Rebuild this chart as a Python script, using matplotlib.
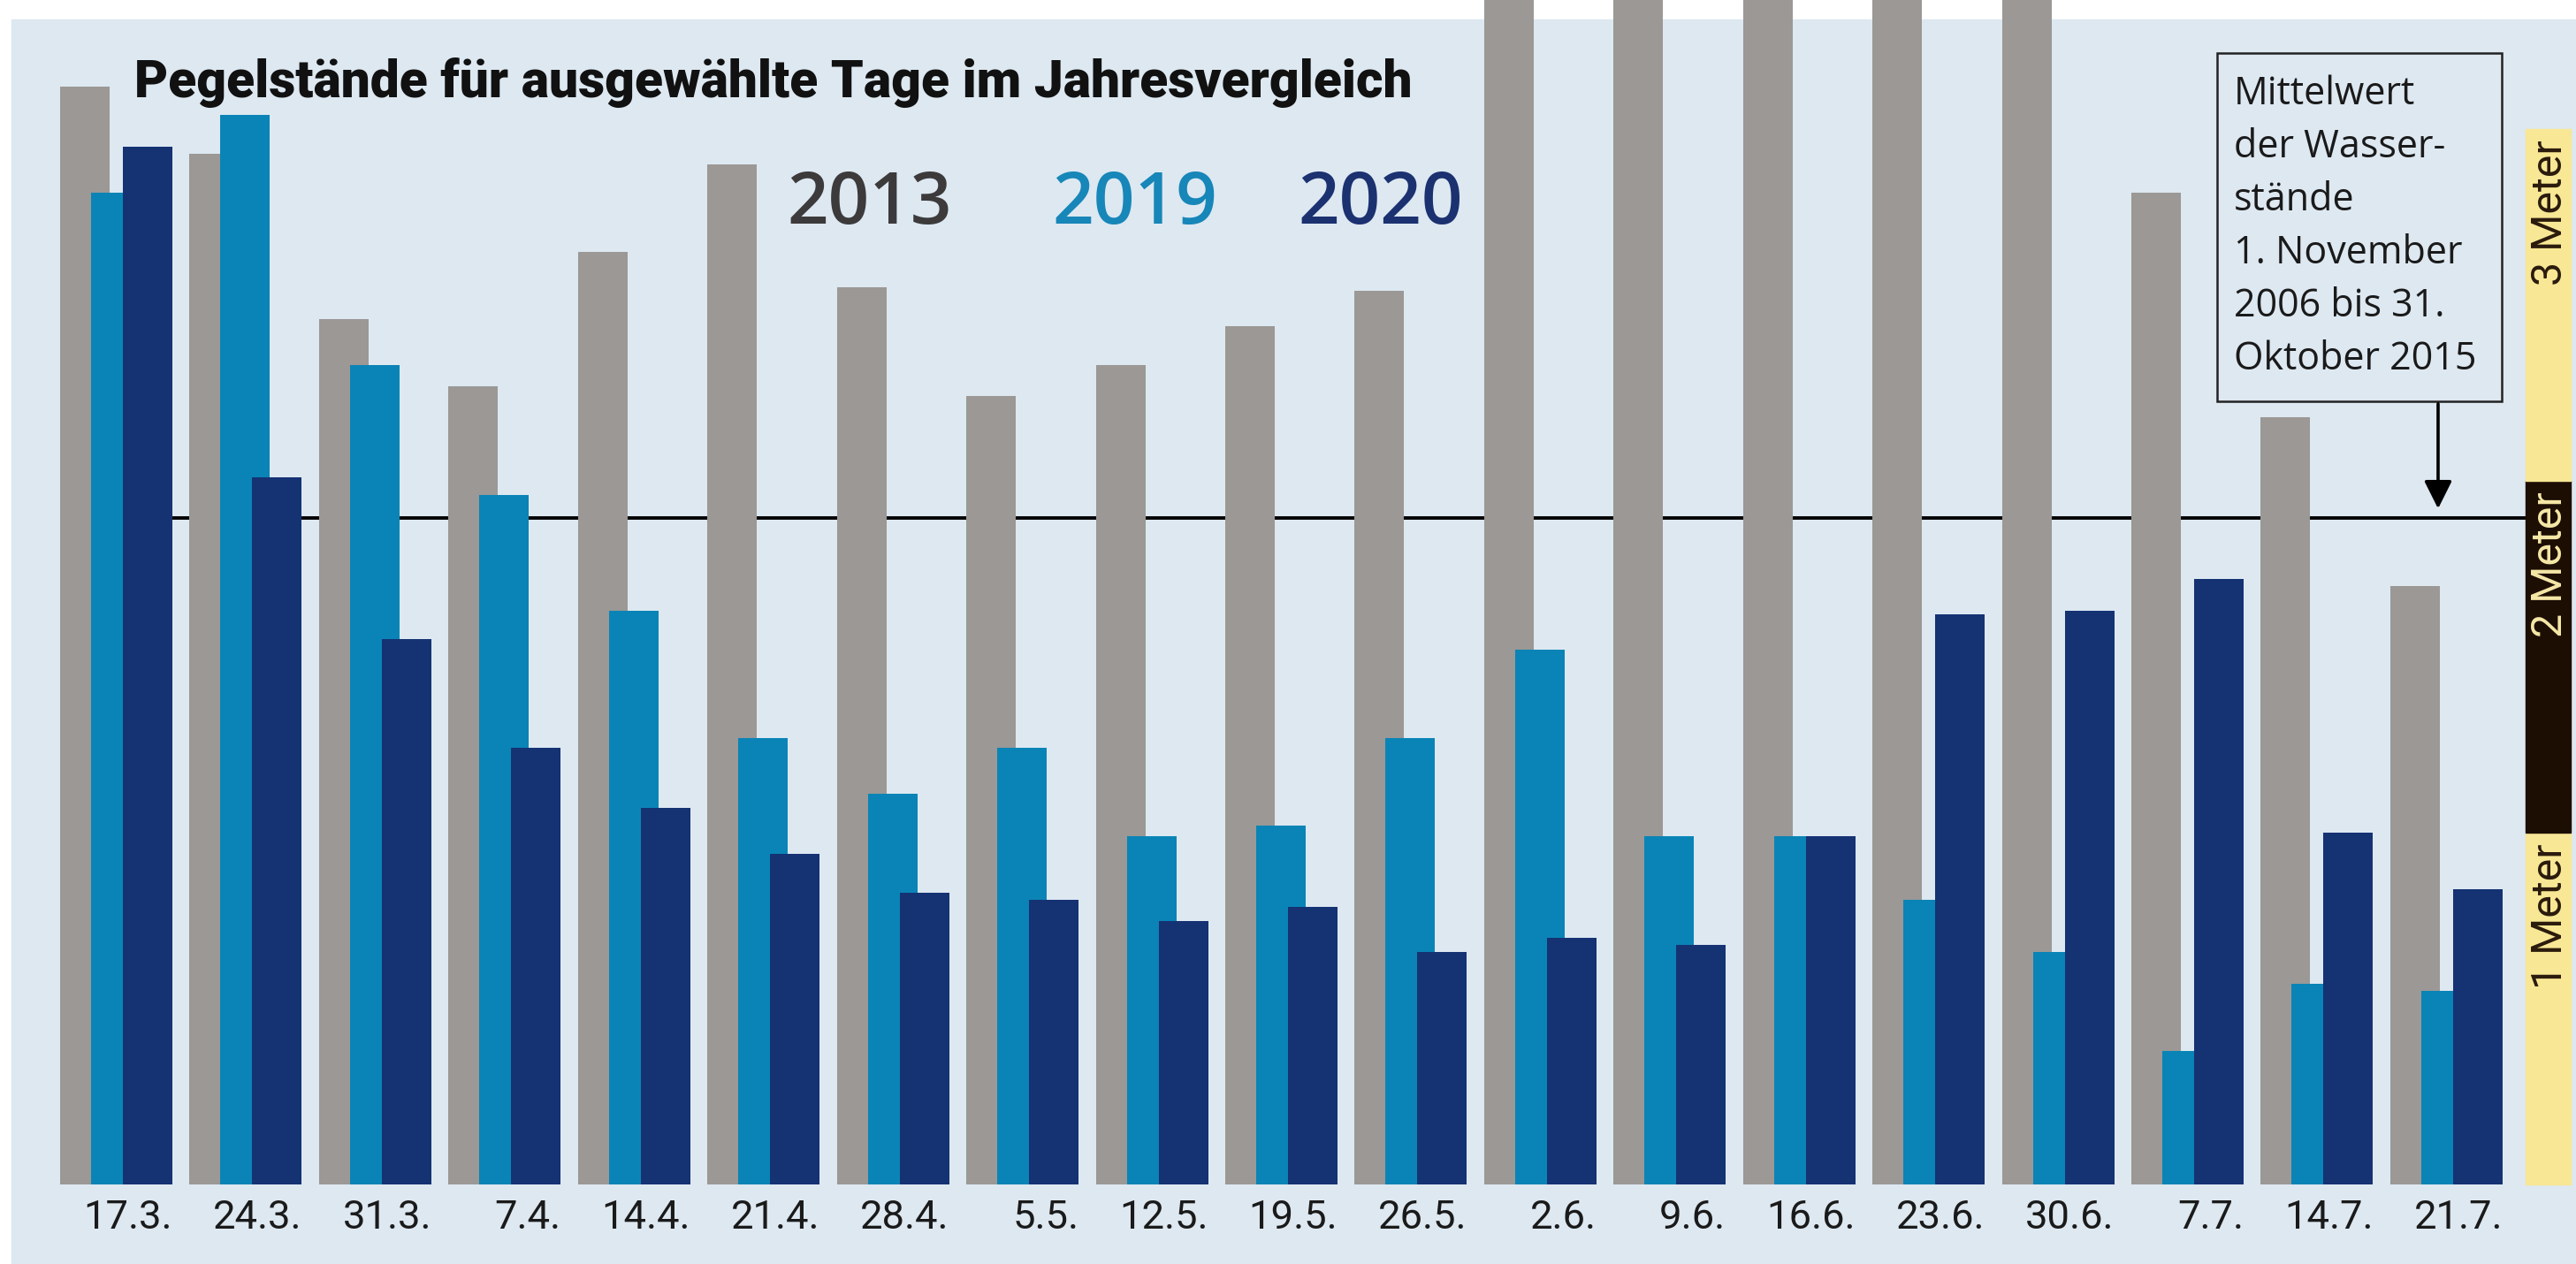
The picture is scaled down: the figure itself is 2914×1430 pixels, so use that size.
import numpy as np
import matplotlib
matplotlib.use('Agg')
import matplotlib.pyplot as plt
from matplotlib.patches import Rectangle
from matplotlib import font_manager


# Pegelstaende in Meter, 2013 bei den Juni-Terminen oben abgeschnitten
dates = ['17.3.', '24.3.', '31.3.', '7.4.', '14.4.', '21.4.', '28.4.', '5.5.', '12.5.',
         '19.5.', '26.5.', '2.6.', '9.6.', '16.6.', '23.6.', '30.6.', '7.7.', '14.7.', '21.7.']
lvl_2013 = [3.12, 2.93, 2.46, 2.27, 2.65, 2.90, 2.55, 2.24, 2.33, 2.44, 2.54,
            3.60, 3.60, 3.60, 3.60, 3.60, 2.82, 2.18, 1.70]
lvl_2019 = [2.82, 3.04, 2.33, 1.96, 1.63, 1.27, 1.11, 1.24, 0.99, 1.02, 1.27,
            1.52, 0.99, 0.99, 0.81, 0.66, 0.38, 0.57, 0.55]
lvl_2020 = [2.95, 2.01, 1.55, 1.24, 1.07, 0.94, 0.83, 0.81, 0.75, 0.79, 0.66,
            0.70, 0.68, 0.99, 1.62, 1.63, 1.72, 1.00, 0.84]
years = ['2013', '2019', '2020']
mean_level = 1.894
scale_marks = [1, 2, 3]
note_lines = ['Mittelwert', 'der Wasser-', 'stände', '1. November', '2006 bis 31.', 'Oktober 2015']
title = 'Pegelstände für ausgewählte Tage im Jahresvergleich'

c_bg = '#dde8f1'
c_gray = '#9b9895'
c_light = '#0a84b6'
c_dark = '#153273'
c_yellow = '#f8e794'
c_black = '#1d0e04'
year_colors = ['#3c3a3a', '#1786b8', '#1b3170']

names = {f.name for f in font_manager.fontManager.ttflist}
narrow = 'Liberation Sans Narrow' if 'Liberation Sans Narrow' in names else 'Roboto'
body = 'Open Sans' if 'Open Sans' in names else 'DejaVu Sans'

W, H = 2914, 1430
px_group = 146.44   # pixel per group
px_m = 398.0        # pixel per meter
x0_px, base_px = 68, 1340

fig = plt.figure(figsize=(W / 100, H / 100), dpi=100)
fig.patch.set_facecolor('white')
ax = fig.add_axes([0, 0, 1, 1])
ax.set_xlim(-x0_px / px_group, (W - x0_px) / px_group)
ax.set_ylim(-(H - base_px) / px_m, base_px / px_m)
ax.axis('off')
renderer = fig.canvas.get_renderer()


def fit_size(t, target, along='width'):
    bb = t.get_window_extent(renderer)
    cur = bb.width if along == 'width' else bb.height
    t.set_fontsize(t.get_fontsize() * target / cur)
    return t.get_fontsize()


# background panel with white border top/left
ax.add_patch(Rectangle((13 / W, 0), 1, (H - 22) / H, transform=ax.transAxes,
                       color=c_bg, zorder=0))

x = np.arange(len(dates))
bw = 56 / px_group
off_light = 35 / px_group
off_dark = 71 / px_group
ax.bar(x, lvl_2013, width=bw, align='edge', color=c_gray, zorder=2)
ax.bar(x + off_light, lvl_2019, width=bw, align='edge', color=c_light, zorder=3)
ax.bar(x + off_dark, lvl_2020, width=bw, align='edge', color=c_dark, zorder=4)

# scale bar right
sx0 = (2857 - x0_px) / px_group
sx1 = (2908 - x0_px) / px_group
ax.plot([0, sx0], [mean_level, mean_level], color='black', lw=2.8, zorder=1.5,
        solid_capstyle='butt')
for m in scale_marks:
    fc = c_black if m == 2 else c_yellow
    tc = '#f6e8a6' if m == 2 else '#2a1a0c'
    ax.add_patch(Rectangle((sx0, m - 1), sx1 - sx0, 1, color=fc, zorder=2))
    t = ax.text((sx0 + sx1) / 2 + 0.015, m - 0.03, f'{m} Meter', rotation=90,
                ha='center', va='top', fontsize=32, family=narrow, color=tc, zorder=5)
    fit_size(t, 165, along='height')

# date labels, right aligned to group end
t0 = ax.text(0, 0, '24.3.', family=narrow, fontsize=30)
fs_tick = fit_size(t0, 100)
t0.remove()
for i, d in enumerate(dates):
    ax.text(i + off_dark + bw, -0.043, d, ha='right', va='top', family=narrow,
            fontsize=fs_tick, color='#1a1a1a')

# title
tt = ax.text(152 / W, 1 - 110 / H, title, transform=ax.transAxes, family=narrow,
             weight='heavy', fontsize=40, color='#111111', va='baseline', ha='left')
fit_size(tt, 1446)

# year legend
for yr, col, xl in zip(years, year_colors, [890, 1190, 1468]):
    t = ax.text(xl / W, 1 - 253 / H, yr, transform=ax.transAxes, family=body,
                weight='semibold', fontsize=60, color=col, va='baseline', ha='left')
    fit_size(t, 187)

# note box with arrow
bx0 = (2508 - x0_px) / px_group
bx1 = (2830 - x0_px) / px_group
by0 = (base_px - 454) / px_m
by1 = (base_px - 60) / px_m
ax.add_patch(Rectangle((bx0, by0), bx1 - bx0, by1 - by0, fill=False, ec='#222222',
                       lw=1.8, zorder=5))
for k, line in enumerate(note_lines):
    ax.text((2527 - x0_px) / px_group, (base_px - 118.5 - 60 * k) / px_m, line,
            family=body, fontsize=31, color='#1a1a1a', va='baseline', ha='left', zorder=6)
ax_x = (2758 - x0_px) / px_group
ax.annotate('', xy=(ax_x, mean_level + 0.02), xytext=(ax_x, by0),
            arrowprops=dict(arrowstyle='-|>', color='black', lw=2.6, mutation_scale=48),
            zorder=6)

fig.savefig('out.png', dpi=100, facecolor=fig.get_facecolor())
